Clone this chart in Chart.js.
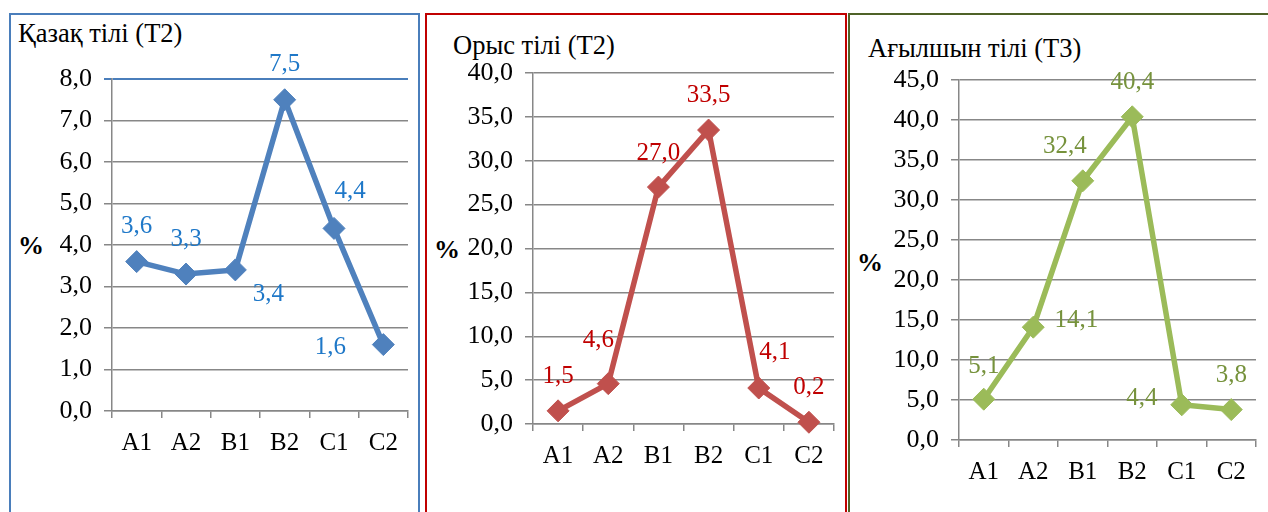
<!DOCTYPE html>
<html>
<head>
<meta charset="utf-8">
<script src="https://cdn.jsdelivr.net/npm/chart.js@4/dist/chart.umd.min.js"></script>
<style>
  html, body { margin: 0; padding: 0; background: #ffffff; }
  body { width: 1268px; height: 512px; position: relative; overflow: hidden; }
  .panel { position: absolute; top: 13px; height: 520px; box-sizing: border-box; }
  .chart { position: absolute; }
  .title { position: absolute; font-family: "Liberation Serif", Tinos, "Times New Roman", serif; font-size: 26.5px; color: #000; white-space: nowrap; line-height: 1; }
  .pct { position: absolute; font-family: "Liberation Serif", Tinos, "Times New Roman", serif; font-size: 26px; font-weight: bold; color: #000; line-height: 1; }
</style>
</head>
<body>
<div class="panel" style="left:9px;width:411px;border:2px solid #4a7ebb;"></div>
<div class="panel" style="left:425px;width:422px;border:2px solid #c00000;"></div>
<div class="panel" style="left:848px;width:430px;border:2px solid #4f6228;"></div>

<div class="title" style="left:18px;top:20px;">Қазақ тілі (Т2)</div>
<div class="title" style="left:453px;top:32px;">Орыс тілі (Т2)</div>
<div class="title" style="left:868px;top:35px;">Ағылшын тілі (Т3)</div>

<div class="pct" style="left:18px;top:233px;">%</div>
<div class="pct" style="left:434px;top:237px;">%</div>
<div class="pct" style="left:857px;top:250px;">%</div>

<canvas id="c1" class="chart"></canvas>
<canvas id="c2" class="chart"></canvas>
<canvas id="c3" class="chart"></canvas>

<script>
// Proficiency levels shown on the x axis
const categories = ['A1', 'A2', 'B1', 'B2', 'C1', 'C2'];

// Share of students (%) per level
const kazakhValues = [3.6, 3.3, 3.4, 7.5, 4.4, 1.6];
const russianValues = [1.5, 4.6, 27.0, 33.5, 4.1, 0.2];
const englishValues = [5.1, 14.1, 32.4, 40.4, 4.4, 3.8];

// Y axis ranges
const kazakhAxis = { max: 8, step: 1 };
const russianAxis = { max: 40, step: 5 };
const englishAxis = { max: 45, step: 5 };

const serif = '"Liberation Serif", Tinos, "Times New Roman", serif';
const gridGray = '#878787';

function fmt(v) { return v.toFixed(1).replace('.', ','); }

// Value labels drawn next to each point; offsets in px relative to the marker
const valueLabels = {
  id: 'valueLabels',
  afterDatasetsDraw(chart, args, opts) {
    const ctx = chart.ctx;
    const meta = chart.getDatasetMeta(0);
    const data = chart.data.datasets[0].data;
    ctx.save();
    ctx.font = '25px ' + serif;
    ctx.fillStyle = opts.color;
    ctx.textAlign = 'center';
    ctx.textBaseline = 'middle';
    meta.data.forEach((pt, i) => {
      const off = opts.offsets[i];
      ctx.fillText(fmt(data[i]), pt.x + off[0], pt.y + off[1]);
    });
    ctx.restore();
  }
};

function makeChart(id, cfg) {
  const cv = document.getElementById(id);
  const w = cfg.canvas.right - cfg.canvas.left;
  const h = cfg.canvas.bottom - cfg.canvas.top;
  cv.width = w; cv.height = h;
  cv.style.left = cfg.canvas.left + 'px';
  cv.style.top = cfg.canvas.top + 'px';
  cv.style.width = w + 'px';
  cv.style.height = h + 'px';
  const plot = cfg.plot;
  return new Chart(cv, {
    type: 'line',
    data: {
      labels: categories,
      datasets: [{
        data: cfg.values,
        borderColor: cfg.line,
        backgroundColor: cfg.line,
        borderWidth: 5.5,
        pointStyle: 'rectRot',
        pointRadius: 11,
        pointBorderWidth: 1,
        pointBackgroundColor: cfg.line,
        pointBorderColor: cfg.line,
        tension: 0,
        clip: false
      }]
    },
    options: {
      responsive: false,
      animation: false,
      events: [],
      layout: {
        padding: {
          top: plot.top - cfg.canvas.top,
          right: cfg.canvas.right - plot.right,
          left: 0,
          bottom: 0
        }
      },
      plugins: {
        legend: { display: false },
        tooltip: { enabled: false },
        valueLabels: { color: cfg.labelColor, offsets: cfg.offsets }
      },
      scales: {
        x: {
          offset: true,
          grid: {
            offset: true,
            drawOnChartArea: false,
            drawTicks: true,
            tickLength: 7,
            color: gridGray,
            lineWidth: 1.5
          },
          border: { display: true, color: gridGray, width: 1.5 },
          ticks: {
            color: '#000',
            font: { family: serif, size: 25 },
            padding: 10,
            maxRotation: 0
          },
          afterFit(scale) { scale.height = cfg.canvas.bottom - plot.bottom; }
        },
        y: {
          min: 0,
          max: cfg.axis.max,
          ticks: {
            stepSize: cfg.axis.step,
            color: '#000',
            font: { family: serif, size: 26 },
            padding: 12,
            callback: (v) => fmt(v)
          },
          grid: {
            color: (c) => (cfg.topBorder && c.tick && c.tick.value === cfg.axis.max) ? cfg.topBorder : gridGray,
            lineWidth: (c) => (cfg.topBorder && c.tick && c.tick.value === cfg.axis.max) ? 2 : 1.5,
            tickLength: 8
          },
          border: { display: true, color: gridGray, width: 1.5 },
          afterFit(scale) { scale.width = plot.left - cfg.canvas.left; }
        }
      }
    },
    plugins: [valueLabels]
  });
}

makeChart('c1', {
  values: kazakhValues,
  axis: kazakhAxis,
  line: '#4f81bd',
  labelColor: '#1f78c8',
  topBorder: '#4a7ebb',
  canvas: { left: 9, top: 13, right: 420, bottom: 512 },
  plot: { left: 112, top: 79, right: 418, bottom: 411 },
  offsets: [[0, -35], [0, -35], [33, 25], [0, -35], [16, -37], [-53, 3]]
});

makeChart('c2', {
  values: russianValues,
  axis: russianAxis,
  line: '#c0504d',
  labelColor: '#c00000',
  canvas: { left: 426, top: 13, right: 846, bottom: 512 },
  plot: { left: 533, top: 73, right: 840, bottom: 424 },
  offsets: [[0, -34], [-10, -43], [0, -34], [0, -35], [16, -36], [0, -35]]
});

makeChart('c3', {
  values: englishValues,
  axis: englishAxis,
  line: '#9bbb59',
  labelColor: '#76923c',
  canvas: { left: 849, top: 13, right: 1268, bottom: 512 },
  plot: { left: 959, top: 80, right: 1260, bottom: 440 },
  offsets: [[0, -33], [43, -7], [-18, -34], [0, -34], [-40, -6], [0, -34]]
});
</script>
</body>
</html>
